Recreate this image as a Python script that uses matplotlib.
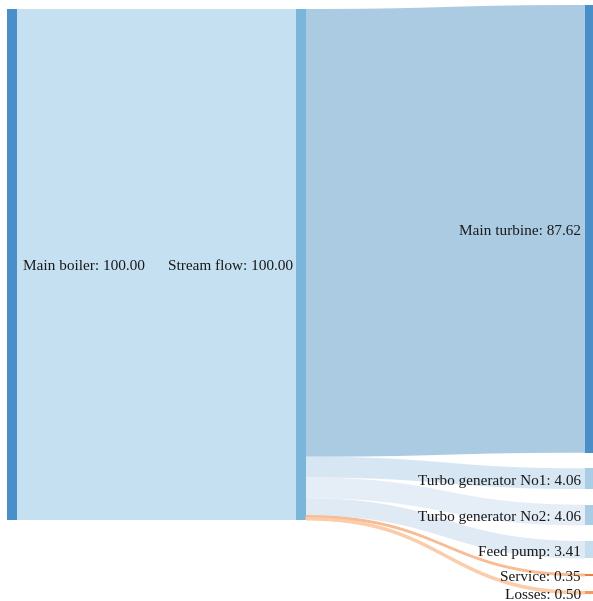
import numpy as np
import matplotlib
matplotlib.use("Agg")
from matplotlib import pyplot as plt
from matplotlib.patches import Polygon, Rectangle

# data
source_name = "Main boiler"
hub_name = "Stream flow"
targets = ["Main turbine", "Turbo generator No1", "Turbo generator No2",
           "Feed pump", "Service", "Losses"]
values = [87.62, 4.06, 4.06, 3.41, 0.35, 0.50]
total = 100.00

node_colors = ["#4a8fc8", "#a9cde5", "#a9cde5", "#c6dcef", "#f07f3c", "#f59a5a"]
link_colors = ["#abcbe3", "#d6e7f3", "#e5eef7", "#dfeaf5", "#f8b88c", "#fbc9a4"]

W, H = 593, 601
fig = plt.figure(figsize=(W / 100, H / 100), dpi=100)
ax = fig.add_axes([0, 0, 1, 1])
ax.set_xlim(0, W)
ax.set_ylim(H, 0)
ax.axis("off")

scale = 5.11      # px per unit
node_w = 10
x_cols = [7, 296, 585]
top_left = 9
top_right = 5
gap = 15.6
dy = 2.5          # text nudge

font = dict(family="Liberation Serif", fontsize=11, color="#1a1a1a")


def band(x0, y0a, y0b, x1, y1a, y1b, color, **kw):
    t = np.linspace(0, 1, 60)
    xm = (x0 + x1) / 2
    bx = (1 - t) ** 3 * x0 + 3 * (1 - t) ** 2 * t * xm + 3 * (1 - t) * t ** 2 * xm + t ** 3 * x1
    s = 3 * t ** 2 - 2 * t ** 3
    top = y0a + (y1a - y0a) * s
    bot = y0b + (y1b - y0b) * s
    pts = np.vstack([np.column_stack([bx, top]), np.column_stack([bx[::-1], bot[::-1]])])
    ax.add_patch(Polygon(pts, closed=True, facecolor=color, edgecolor=color, **kw))


# left and middle nodes
h_all = total * scale
band(x_cols[0] + node_w, top_left, top_left + h_all, x_cols[1], top_left, top_left + h_all,
     "#c5e0f1", lw=0)
ax.add_patch(Rectangle((x_cols[0], top_left), node_w, h_all, color="#4a8fc8", lw=0))
ax.add_patch(Rectangle((x_cols[1], top_left), node_w, h_all, color="#7ab6d9", lw=0))

ax.text(x_cols[0] + node_w + 6, top_left + h_all / 2 + dy, f"{source_name}: {total:.2f}",
        ha="left", va="center", **font)
ax.text(x_cols[1] - 3, top_left + h_all / 2 + dy, f"{hub_name}: {total:.2f}",
        ha="right", va="center", **font)

# links to the right column
ys = top_left
yt = top_right
for name, v, nc, lc in zip(targets, values, node_colors, link_colors):
    h = v * scale
    thin = h < 4
    band(x_cols[1] + node_w, ys, ys + h, x_cols[2], yt, yt + h, lc,
         lw=0.8 if thin else 0, alpha=0.9 if thin else 1)
    ax.add_patch(Rectangle((x_cols[2], yt), node_w, max(h, 1.6), color=nc, lw=0))
    ax.text(x_cols[2] - 4, yt + h / 2 + dy, f"{name}: {v:.2f}", ha="right", va="center", **font)
    ys += h
    yt += h + gap

fig.savefig("out.png", dpi=100)
